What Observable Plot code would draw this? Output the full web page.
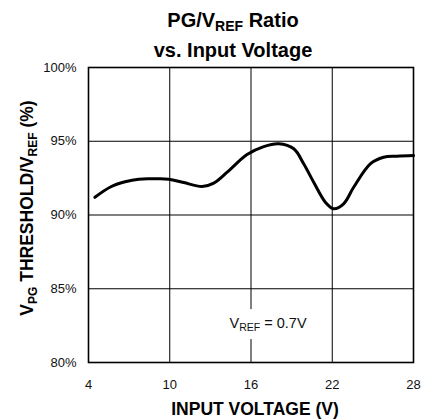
<!DOCTYPE html>
<html>
<head>
<meta charset="utf-8">
<script src="https://cdn.jsdelivr.net/npm/d3@7"></script>
<script src="https://cdn.jsdelivr.net/npm/@observablehq/plot@0.6"></script>
<style>
  html, body { margin: 0; padding: 0; background: #fff; }
  svg { display: block; }
</style>
</head>
<body>
<div id="chart"></div>
<script>
// Input voltage (V)
const inputVoltage = [4.47, 5.62, 6.7, 7.71, 8.8, 9.93, 11.03, 12.39, 13.25, 14.24, 15.71, 16.94, 18.05, 19.16, 19.89, 20.63, 21.49, 22.1, 22.84, 23.58, 24.81, 25.79, 26.78, 28.0];
// PG threshold / VREF ratio (%)
const ratioPct = [91.2, 91.9, 92.25, 92.43, 92.45, 92.43, 92.2, 91.93, 92.16, 92.9, 94.1, 94.64, 94.83, 94.49, 93.47, 92.22, 90.87, 90.42, 90.76, 91.88, 93.47, 93.92, 93.99, 94.03];

const xTicks = [4, 10, 16, 22, 28];
const yTicks = [80, 85, 90, 95, 100];
const xDomain = [4, 28];
const yDomain = [80, 100];

// annotation anchor (data coords)
const noteX = [17.3];
const noteY = [82.3];

const data = inputVoltage.map((v, i) => ({v, r: ratioPct[i]}));

const font = "'Liberation Sans', Arial, Helvetica, sans-serif";

const plot = Plot.plot({
  width: 434,
  height: 419,
  marginLeft: 88,
  marginRight: 21,
  marginTop: 67,
  marginBottom: 57,
  style: {fontFamily: font, fontSize: "13px", color: "#000", background: "#fff"},
  x: {domain: xDomain, ticks: xTicks, label: null},
  y: {domain: yDomain, ticks: yTicks, label: null, tickFormat: d => d + "%"},
  marks: [
    Plot.gridX(xTicks, {stroke: "#000", strokeOpacity: 1, strokeWidth: 1}),
    Plot.gridY(yTicks, {stroke: "#000", strokeOpacity: 1, strokeWidth: 1}),
    Plot.axisX(xTicks, {tickSize: 0, tickPadding: 17, fontSize: 13, fill: "#111"}),
    Plot.axisY(yTicks, {tickSize: 0, tickPadding: 12, fontSize: 13, fill: "#111", tickFormat: d => d + "%"}),
    Plot.line(data, {x: "v", y: "r", stroke: "#000", strokeWidth: 3, curve: "catmull-rom"}),
    Plot.frame({stroke: "#000", strokeWidth: 1.6})
  ]
});

document.getElementById("chart").appendChild(plot);

const svg = d3.select(plot);
const sx = plot.scale("x"), sy = plot.scale("y");

// Annotation with white backing (interrupts gridline)
const nx = sx.apply(noteX[0]), ny = sy.apply(noteY[0]);
const bg = svg.append("rect").attr("fill", "#fff");
const note = svg.append("text")
  .attr("x", nx).attr("y", ny)
  .attr("font-family", font).attr("font-size", 14.5).attr("fill", "#111");
note.append("tspan").text("V");
note.append("tspan").attr("font-size", 10.5).attr("dy", 3).text("REF");
note.append("tspan").attr("dy", -3).text(" = 0.7V");
const bb = note.node().getBBox();
bg.attr("x", bb.x - 4).attr("y", bb.y - 6).attr("width", bb.width + 8).attr("height", bb.height + 12);

// Title
const t1 = svg.append("text").attr("x", 233).attr("y", 27).attr("text-anchor", "middle")
  .attr("font-family", font).attr("font-weight", "bold").attr("font-size", 20);
t1.append("tspan").text("PG/V");
t1.append("tspan").attr("font-size", 14).attr("dy", 4).text("REF");
t1.append("tspan").attr("dy", -4).text(" Ratio");
svg.append("text").attr("x", 233).attr("y", 57).attr("text-anchor", "middle")
  .attr("font-family", font).attr("font-weight", "bold").attr("font-size", 20)
  .text("vs. Input Voltage");

// X axis title
svg.append("text").attr("x", 255).attr("y", 415).attr("text-anchor", "middle")
  .attr("font-family", font).attr("font-weight", "bold").attr("font-size", 17.5)
  .text("INPUT VOLTAGE (V)");

// Y axis title
const yt = svg.append("text").attr("transform", "translate(33,208) rotate(-90)").attr("text-anchor", "middle")
  .attr("font-family", font).attr("font-weight", "bold").attr("font-size", 17.5);
yt.append("tspan").text("V");
yt.append("tspan").attr("font-size", 12).attr("dy", 4).text("PG");
yt.append("tspan").attr("dy", -4).text(" THRESHOLD/V");
yt.append("tspan").attr("font-size", 12).attr("dy", 4).text("REF");
yt.append("tspan").attr("dy", -4).text(" (%)");
</script>
</body>
</html>
